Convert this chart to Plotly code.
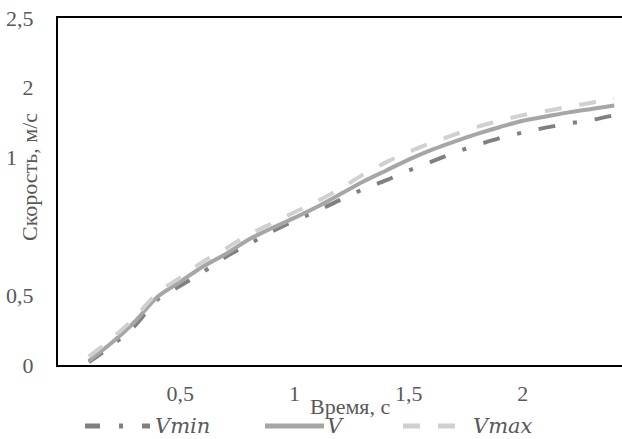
import plotly.graph_objects as go

# Time, s
t = [0.1, 0.2, 0.3, 0.4, 0.5, 0.6, 0.7, 0.8, 0.9, 1.0, 1.1, 1.2,
     1.3, 1.4, 1.5, 1.6, 1.7, 1.8, 1.9, 2.0, 2.1, 2.2, 2.3, 2.4]

# Speed, m/s
v_min = [0.02, 0.14, 0.28, 0.47, 0.57, 0.67, 0.78, 0.87, 0.96, 1.04, 1.11, 1.19,
         1.265, 1.33, 1.40, 1.465, 1.53, 1.585, 1.635, 1.675, 1.71, 1.74, 1.765, 1.80]
v = [0.03, 0.16, 0.31, 0.49, 0.60, 0.71, 0.80, 0.905, 0.985, 1.06, 1.14, 1.23,
     1.32, 1.40, 1.48, 1.55, 1.61, 1.665, 1.715, 1.76, 1.79, 1.82, 1.845, 1.87]
v_max = [0.06, 0.19, 0.34, 0.52, 0.63, 0.745, 0.84, 0.94, 1.02, 1.10, 1.18, 1.27,
         1.37, 1.46, 1.535, 1.60, 1.66, 1.715, 1.76, 1.80, 1.83, 1.86, 1.89, 1.92]

y_ticks = [0, 0.5, 1, 1.5, 2, 2.5]
x_ticks = [0.5, 1, 1.5, 2]

series = [
    ("Vmin", v_min, "#808080", "17px,18px,4px,18px"),
    ("V", v, "#a6a6a6", "solid"),
    ("Vmax", v_max, "#d0d0d0", "17px,18px"),
]

W, H = 622, 439
L, R, T, B = 58, 0, 18, 74
PW, PH = W - L - R, H - T - B
FONT = "Liberation Serif"
ITALIC_FONT = "DejaVu Serif"
TXT = "#595959"


def px(xp):
    return (xp - L) / PW


def py(yp):
    return (H - B - yp) / PH


fig = go.Figure()
for name, ys, color, dash in series:
    fig.add_trace(go.Scatter(
        x=t, y=ys, mode="lines", name=name, showlegend=False,
        line=dict(color=color, width=4, dash=dash, shape="spline", smoothing=0.8),
    ))

fig.update_layout(
    width=W, height=H,
    margin=dict(l=L, r=R, t=T, b=B, pad=0),
    paper_bgcolor="white", plot_bgcolor="white",
    separators=", ",
    font=dict(family=FONT, size=22, color=TXT),
    xaxis=dict(
        range=[-0.035, 2.434], tickvals=x_ticks, ticks="",
        showgrid=False, zeroline=False,
        showline=True, linecolor="black", linewidth=2, mirror=True,
        ticklabelstandoff=8,
        tickfont=dict(family=FONT, size=22, color=TXT),
    ),
    yaxis=dict(
        range=[0, 2.5], tickvals=y_ticks, ticks="",
        showgrid=False, zeroline=False,
        showline=True, linecolor="black", linewidth=2, mirror=False,
        ticklabelstandoff=18,
        tickfont=dict(family=FONT, size=22, color=TXT),
    ),
)

# axis titles
fig.add_annotation(
    text="Скорость, м/с", xref="paper", yref="paper",
    x=px(29), y=py(177), xanchor="center", yanchor="middle",
    textangle=-90, showarrow=False, bgcolor="white", borderpad=0,
    font=dict(family=FONT, size=22, color=TXT),
)
fig.add_annotation(
    text="Время, с", xref="paper", yref="paper",
    x=px(350), y=py(407), xanchor="center", yanchor="middle",
    showarrow=False, font=dict(family=FONT, size=22, color=TXT),
)

# legend row below the axis
legend_row = [
    ("Vmin", "#808080", "15px,19px,4px,19px", 85, 150, 153),
    ("V", "#a6a6a6", "solid", 265, 324, 325),
    ("Vmax", "#d0d0d0", "17px,18px", 403, 460, 471),
]
ly = 426
for name, color, dash, x0, x1, xt in legend_row:
    fig.add_shape(
        type="line", xref="paper", yref="paper",
        x0=px(x0), x1=px(x1), y0=py(ly), y1=py(ly),
        line=dict(color=color, width=5, dash=dash),
    )
    fig.add_annotation(
        text=name, xref="paper", yref="paper",
        x=px(xt), y=py(ly), xanchor="left", yanchor="middle",
        showarrow=False,
        font=dict(family=ITALIC_FONT, size=21, color=TXT, style="italic"),
    )

fig.write_html("out.html")
